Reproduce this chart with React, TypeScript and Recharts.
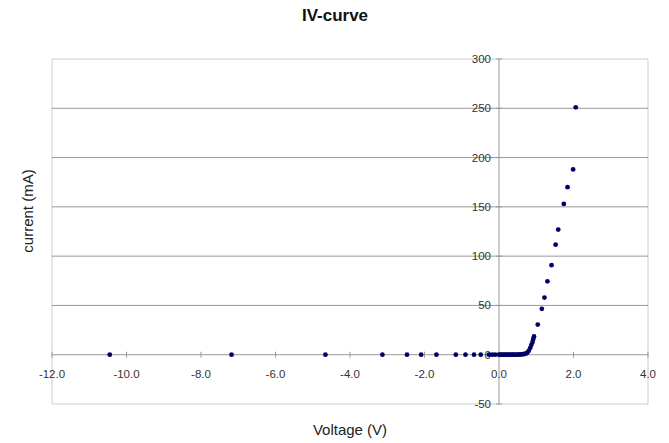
import { ScatterChart, Scatter, XAxis, YAxis, ReferenceLine, ReferenceArea, ReferenceDot } from "recharts";

const voltage = [
  -10.45, -7.18, -4.66, -3.13, -2.47, -2.09, -1.68, -1.16, -0.9, -0.67, -0.49, -0.27, -0.18, -0.1,
  0.0, 0.04, 0.08, 0.12, 0.16, 0.2, 0.24, 0.28, 0.32, 0.36, 0.4, 0.44, 0.48, 0.52, 0.56, 0.6, 0.64, 0.68,
  0.72, 0.76, 0.8, 0.84, 0.87, 0.9, 0.92, 0.94,
  1.04, 1.15, 1.22, 1.3, 1.41, 1.52, 1.59, 1.74, 1.84, 1.99, 2.06,
];
const current = [
  0, 0, 0, 0, 0, 0, 0, 0, 0, 0, 0, 0, 0, 0,
  0, 0, 0, 0, 0, 0, 0, 0, 0, 0, 0, 0, 0.1, 0.1, 0.2, 0.3, 0.5, 0.7,
  1.2, 2, 4, 7, 10, 13, 16, 18.5,
  30.6, 46.6, 58, 74.5, 90.8, 111.6, 127, 153, 170, 188, 251,
];
const xTicks = [-12, -10, -8, -6, -4, -2, 0, 2, 4];
const yTicks = [-50, 0, 50, 100, 150, 200, 250, 300];
const gridLines = [50, 100, 150, 200, 250];

const points = voltage.map((v, i) => ({ v, i: current[i] }));

const font = "'Liberation Sans', Arial, sans-serif";

const XTickMark = (props: any) => {
  const { cx, cy, label } = props;
  return (
    <g>
      <line x1={cx} x2={cx} y1={cy - 3} y2={cy + 3} stroke="#999" />
      <text x={cx} y={cy + 23} textAnchor="middle" fontSize={11.5} fill="#333" fontFamily={font}>
        {label}
      </text>
    </g>
  );
};

const YTickMark = (props: any) => {
  const { cx, cy, label } = props;
  return (
    <g>
      <line x1={cx - 3} x2={cx + 3} y1={cy} y2={cy} stroke="#999" />
      <text x={cx - 8} y={cy + 4} textAnchor="end" fontSize={11.5} fill="#333" fontFamily={font}>
        {label}
      </text>
    </g>
  );
};

const Marker = (props: any) => {
  const { cx, cy } = props;
  return <circle cx={cx} cy={cy} r={2.4} fill="#000066" />;
};

export default function App() {
  return (
    <div style={{ position: "absolute", left: 0, top: 0, background: "#fff" }}>
      <ScatterChart width={669} height={443} margin={{ top: 59, right: 21, bottom: 39, left: 52 }}>
        <XAxis type="number" dataKey="v" domain={[-12, 4]} hide />
        <YAxis type="number" dataKey="i" domain={[-50, 300]} hide />
        <ReferenceArea x1={-12} x2={4} y1={-50} y2={300} fill="none" stroke="#cccccc" ifOverflow="visible" />
        {gridLines.map((g) => (
          <ReferenceLine key={g} y={g} stroke="#999" />
        ))}
        <ReferenceLine y={0} stroke="#999" />
        <ReferenceLine x={0} stroke="#999" />
        {xTicks.map((t) => (
          <ReferenceDot
            key={"x" + t}
            x={t}
            y={0}
            ifOverflow="visible"
            shape={(p: any) => <XTickMark {...p} label={t.toFixed(1)} />}
          />
        ))}
        {yTicks.map((t) => (
          <ReferenceDot
            key={"y" + t}
            x={0}
            y={t}
            ifOverflow="visible"
            shape={(p: any) => <YTickMark {...p} label={String(t)} />}
          />
        ))}
        <Scatter data={points} shape={<Marker />} isAnimationActive={false} />
        <text x={335} y={21} textAnchor="middle" fontSize={17} fontWeight="bold" fill="#111" fontFamily={font}>
          IV-curve
        </text>
        <text x={350} y={435} textAnchor="middle" fontSize={15} fill="#222" fontFamily={font}>
          Voltage (V)
        </text>
        <text
          x={33}
          y={211}
          textAnchor="middle"
          fontSize={15}
          fill="#222"
          fontFamily={font}
          transform="rotate(-90 33 211)"
        >
          current (mA)
        </text>
      </ScatterChart>
    </div>
  );
}
